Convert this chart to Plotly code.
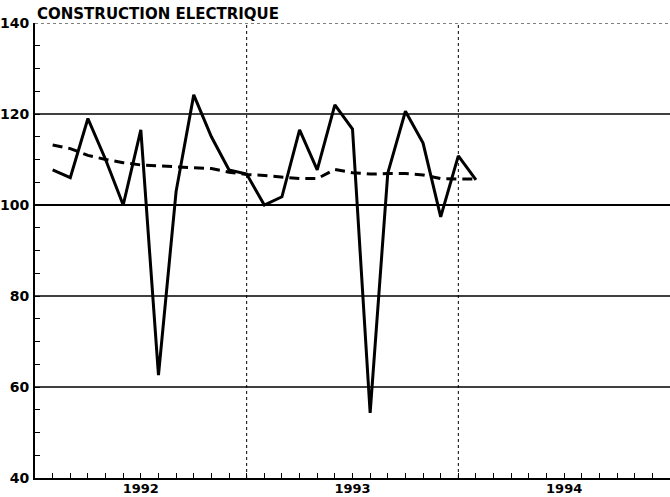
import plotly.graph_objects as go

TITLE = "CONSTRUCTION ELECTRIQUE"
months = list(range(1, 26))
production = [107.7, 106.0, 119.0, 110.0, 100.0, 116.5, 62.6, 103.0, 124.2, 115.0,
              107.7, 106.8, 100.0, 101.8, 116.5, 107.7, 122.0, 116.7, 54.3, 107.0,
              120.6, 113.6, 97.4, 110.8, 105.5]
trend = [113.2, 112.4, 110.9, 110.0, 109.3, 108.8, 108.6, 108.4, 108.2, 108.0,
         107.2, 106.7, 106.5, 106.2, 105.8, 105.8, 107.8, 107.1, 106.8, 106.9,
         106.9, 106.6, 105.8, 105.7, 105.7]
year_labels = ["1992", "1993", "1994"]
year_centers = [6, 18, 30]
year_bounds = [12, 24]
y_ticks = [40, 60, 80, 100, 120, 140]
grid_levels = [60, 80, 120]

FONT = "DejaVu Sans"

fig = go.Figure()
fig.add_trace(go.Scatter(x=months, y=trend, mode="lines",
                         line=dict(color="black", width=3, dash="10px,6px"),
                         showlegend=False, hoverinfo="skip"))
fig.add_trace(go.Scatter(x=months, y=production, mode="lines",
                         line=dict(color="black", width=3),
                         showlegend=False, hoverinfo="skip"))

shapes = []
for lv in grid_levels:
    shapes.append(dict(type="line", xref="paper", x0=0, x1=1, yref="y", y0=lv, y1=lv,
                       line=dict(color="black", width=1.5), layer="below"))
shapes.append(dict(type="line", xref="paper", x0=0, x1=1, yref="y", y0=100, y1=100,
                   line=dict(color="black", width=2), layer="below"))
shapes.append(dict(type="line", xref="paper", x0=0, x1=1, yref="y", y0=140, y1=140,
                   line=dict(color="black", width=1, dash="dot"), layer="below"))
for b in year_bounds:
    shapes.append(dict(type="line", xref="x", x0=b, x1=b, yref="paper", y0=0, y1=1,
                       line=dict(color="black", width=1, dash="dot"), layer="below"))

fig.update_layout(
    width=670, height=497,
    margin=dict(l=35, r=0, t=23, b=19),
    paper_bgcolor="white", plot_bgcolor="white",
    shapes=shapes,
    annotations=[dict(text="<b>" + TITLE + "</b>", xref="paper", yref="paper",
                      x=0, y=1, xanchor="left", yanchor="bottom", showarrow=False,
                      yshift=-2,
                      font=dict(family=FONT, size=15, color="black"))],
)
fig.update_xaxes(range=[0, 36], tickvals=year_centers, ticktext=year_labels,
                 ticks="inside", ticklen=5, tickwidth=1, tickcolor="black",
                 minor=dict(dtick=1, tick0=0, ticks="inside", ticklen=5,
                            tickcolor="black", tickwidth=1, showgrid=False),
                 showline=True, linewidth=2, linecolor="black",
                 showgrid=False, zeroline=False, automargin=False, ticklabelstandoff=-3,
                 tickfont=dict(family=FONT, size=13, color="black", weight="bold"))
fig.update_yaxes(range=[40, 140], tickvals=y_ticks, ticks="inside", ticklen=5,
                 tickwidth=1, tickcolor="black",
                 minor=dict(dtick=5, tick0=40, ticks="inside", ticklen=5,
                            tickcolor="black", tickwidth=1, showgrid=False),
                 showline=True, linewidth=2, linecolor="black",
                 showgrid=False, zeroline=False, automargin=False, ticklabelstandoff=1,
                 tickfont=dict(family=FONT, size=14, color="black", weight="bold"))

fig.write_html("out.html", config={"displayModeBar": False},
               post_script="document.body.style.margin='0';document.body.style.padding='0';")
